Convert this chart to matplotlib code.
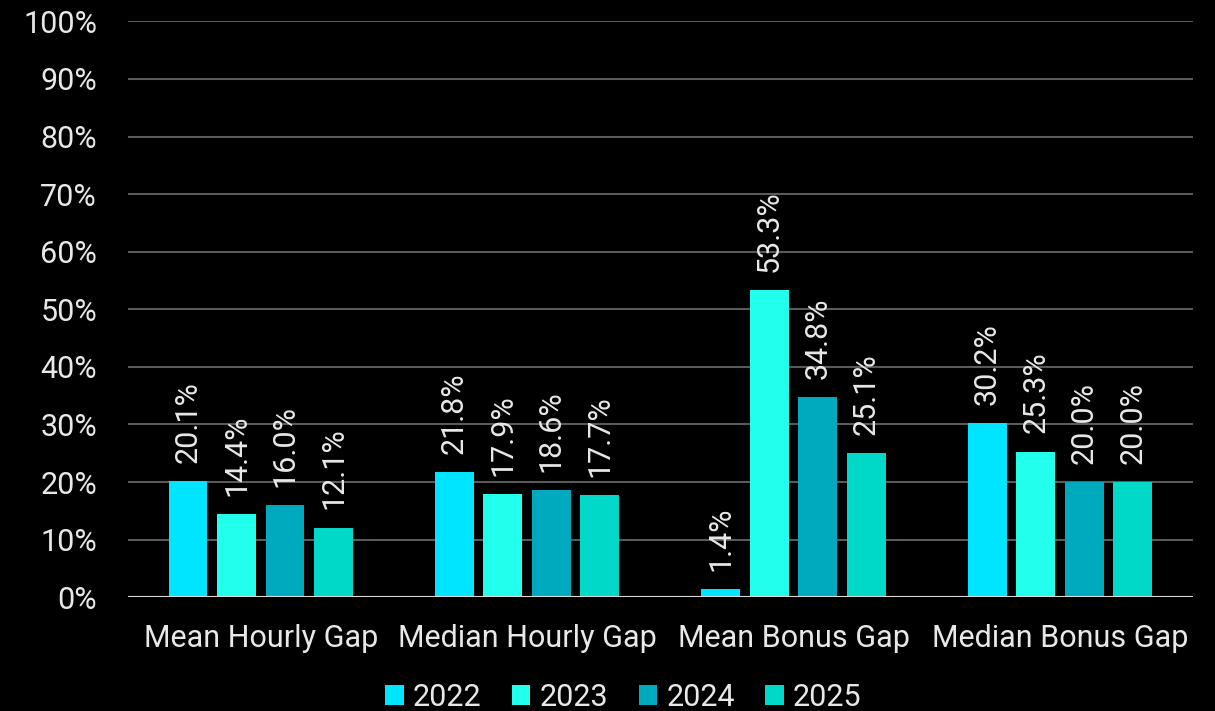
import numpy as np
import matplotlib.pyplot as plt
from matplotlib.ticker import FuncFormatter

categories = ['Mean Hourly Gap', 'Median Hourly Gap', 'Mean Bonus Gap', 'Median Bonus Gap']
years = ['2022', '2023', '2024', '2025']
values = {
    '2022': [20.1, 21.8, 1.4, 30.2],
    '2023': [14.4, 17.9, 53.3, 25.3],
    '2024': [16.0, 18.6, 34.8, 20.0],
    '2025': [12.1, 17.7, 25.1, 20.0],
}
colors = ['#00E5FF', '#22FFEC', '#00AABE', '#00D9C8']

plt.rcParams['font.family'] = ['Roboto', 'DejaVu Sans']
text_col = '#E8E8E8'
fs = 22

fig = plt.figure(figsize=(12.15, 7.11), dpi=100, facecolor='black')
ax = fig.add_axes([0.105, 0.160, 0.877, 0.810])
ax.set_facecolor('black')

x = np.arange(len(categories))
step = 0.182
width = 0.146
for i, yr in enumerate(years):
    pos = x + (i - 1.5) * step
    bars = ax.bar(pos, values[yr], width, color=colors[i], label=yr, zorder=3)
    for b, v in zip(bars, values[yr]):
        ax.annotate(f'{v:.1f}%', xy=(b.get_x() + b.get_width() / 2, v),
                    xytext=(0, 13), textcoords='offset points',
                    rotation=90, ha='center', va='bottom',
                    color=text_col, fontsize=fs)

ax.set_xlim(-0.5, 3.5)
ax.set_ylim(0, 100)
ax.set_yticks(np.arange(0, 101, 10))
ax.yaxis.set_major_formatter(FuncFormatter(lambda v, p: f'{v:.0f}%'))
ax.set_xticks(x)
ax.set_xticklabels(categories)
ax.grid(axis='y', color='#5A5A5A', linewidth=1.5, zorder=0)
ax.axhline(0, color='#D9D9D9', linewidth=1.5, zorder=4)
for s in ax.spines.values():
    s.set_visible(False)
ax.tick_params(axis='both', length=0, colors=text_col, labelsize=fs)
ax.tick_params(axis='x', pad=19)
ax.tick_params(axis='y', pad=22)

leg = fig.legend(loc='lower center', bbox_to_anchor=(0.513, -0.04), ncol=4,
                 frameon=False, fontsize=fs, handlelength=0.6, handleheight=0.6,
                 handletextpad=0.3, columnspacing=1.0)
for t in leg.get_texts():
    t.set_color(text_col)

fig.savefig('out.png', dpi=100, facecolor='black')
